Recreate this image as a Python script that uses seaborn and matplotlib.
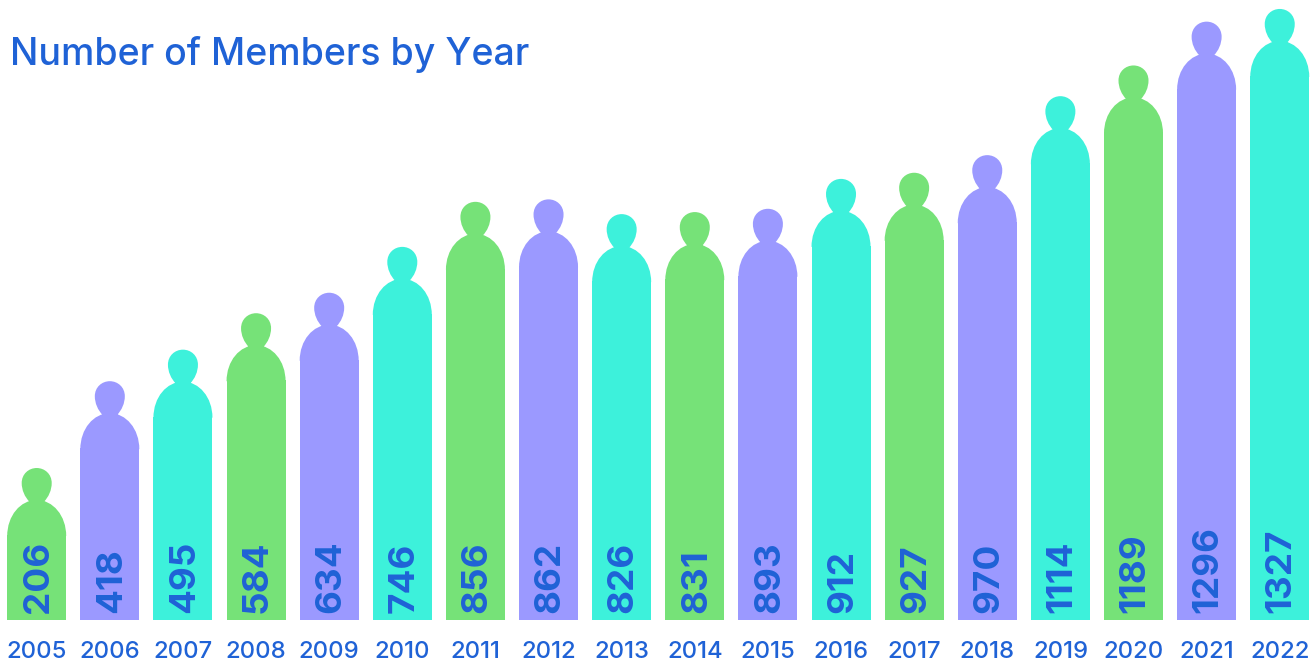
import matplotlib
matplotlib.use("Agg")
import matplotlib.pyplot as plt
from matplotlib.path import Path
from matplotlib.patches import PathPatch
import seaborn as sns
import pandas as pd

years = ["2005","2006","2007","2008","2009","2010","2011","2012","2013",
         "2014","2015","2016","2017","2018","2019","2020","2021","2022"]
# height of each bar as drawn (the 2015 figure is drawn lower than its printed label)
bar_values = [206,418,495,584,634,746,856,862,826,831,839,912,927,970,1114,1189,1296,1327]
labels = ["206","418","495","584","634","746","856","862","826","831","893","912","927","970","1114","1189","1296","1327"]
groups = ["a","b","c"] * 6
palette = {"a": "#76E278", "b": "#9B99FF", "c": "#3DF1DB"}
TEXT = "#1F62D6"

W, H = 1312, 664
BASE_PX = 620
sns.set_theme(style="white")
plt.rcParams["font.family"] = ["Inter", "DejaVu Sans"]

fig = plt.figure(figsize=(W/100, H/100), dpi=100, facecolor="white")
ax = fig.add_axes([0, (H-BASE_PX)/H, 1, BASE_PX/H])
df = pd.DataFrame({"year": years, "value": bar_values, "group": groups})
sns.barplot(data=df, x="year", y="value", hue="group", palette=palette, dodge=False,
            width=0.807, legend=False, saturation=1, ax=ax, errorbar=None)

step = 73.12
ax.set_xlim(-36.7/step, (W-36.7)/step)
ymin, ymax = -87, 1427
ax.set_ylim(ymin, ymax)
sns.despine(ax=ax, left=True, bottom=True, top=True, right=True)
ax.set_xlabel(""); ax.set_ylabel("")
ax.set_yticks([])
ax.tick_params(axis="x", length=0, pad=15, labelsize=17.2, labelcolor=TEXT)
for t in ax.get_xticklabels():
    t.set_fontweight("medium")

sx = 1/step
sy = (ymax-ymin)/BASE_PX
SHOULDER = 35
HALF = 29.5
K = 0.5523

def person_path(cx, top):
    X = lambda p: cx + p*sx
    Y = lambda p: top + p*sy
    v, c = [], []
    def add(code, *pts):
        for (a, b) in pts:
            v.append((X(a), Y(b))); c.append(code)
    # shoulders
    add(Path.MOVETO, (-HALF, -SHOULDER-1))
    add(Path.CURVE4, (-HALF, -SHOULDER*(1-K)), (-HALF*K, 0), (0, 0))
    add(Path.CURVE4, (HALF*K, 0), (HALF, -SHOULDER*(1-K)), (HALF, -SHOULDER-1))
    add(Path.CLOSEPOLY, (-HALF, -SHOULDER-1))
    # head
    add(Path.MOVETO, (-7, -2))
    add(Path.CURVE4, (-12, 3), (-15, 10), (-15, 17))
    add(Path.CURVE4, (-15, 26), (-8, 32), (0, 32))
    add(Path.CURVE4, (8, 32), (15, 26), (15, 17))
    add(Path.CURVE4, (15, 10), (12, 3), (7, -2))
    add(Path.CLOSEPOLY, (7, -2))
    return Path(v, c)

for bar in list(ax.patches):
    cx = bar.get_x() + bar.get_width()/2
    idx = int(round(cx))
    val = bar_values[idx]
    color = bar.get_facecolor()
    bar.set_y(ymin)
    bar.set_height(val - SHOULDER*sy - ymin)
    bar.set_linewidth(0)
    ax.add_patch(PathPatch(person_path(cx, val), facecolor=color, edgecolor="none", linewidth=0))
    ax.text(cx + 1.5*sx, ymin + 7*sy, labels[idx], rotation=90, ha="center", va="bottom",
            color=TEXT, fontsize=26.5, fontweight="bold")

ax.set_title("Number of Members by Year", loc="left", x=10.5/W, y=(BASE_PX-65)/BASE_PX, pad=0,
             color=TEXT, fontsize=27, fontweight="medium")

fig.savefig("out.png", dpi=100, facecolor="white")
